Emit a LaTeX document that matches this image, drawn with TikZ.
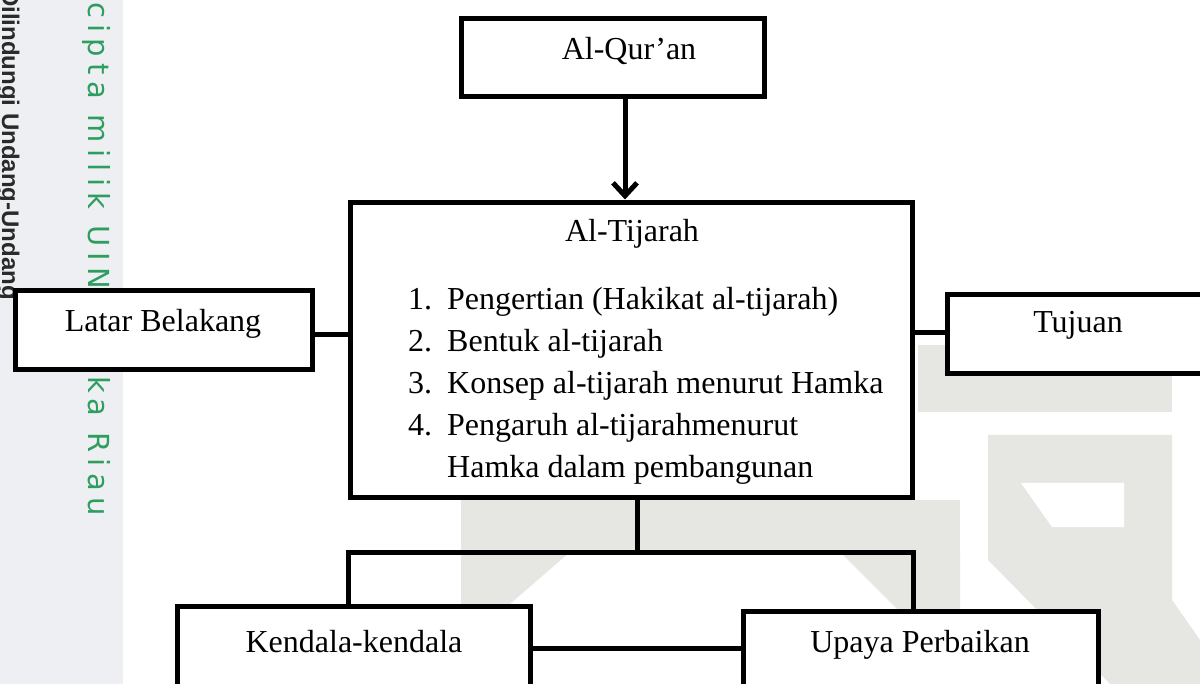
\documentclass[tikz,border=0pt]{standalone}
\usepackage{fontspec}
\setmainfont{Liberation Serif}
\newfontfamily\wmsans{Liberation Sans}
\newfontfamily\wmgreen{DejaVu Sans}[LetterSpace=22]
\usetikzlibrary{arrows.meta}
\definecolor{stripgray}{HTML}{EEEFF3}
\definecolor{wmgreen}{HTML}{2E9E60}
\definecolor{wmtext}{HTML}{2A2A2A}
\definecolor{logogray}{HTML}{E6E7E3}
\tikzset{
  box/.style={draw=black, line width=5pt, fill=white, inner sep=0pt, outer sep=0pt, line join=miter},
  conn/.style={draw=black, line width=5pt, line join=miter},
  lbl/.style={font=\fontsize{32}{42}\selectfont, anchor=base, inner sep=0pt},
  lbll/.style={lbl, anchor=base west},
  logo/.style={fill=logogray, draw=none},
}
\begin{document}
\begin{tikzpicture}[x=1pt,y=-1pt]
\useasboundingbox (0,0) rectangle (1200,684);
\clip (0,0) rectangle (1200,684);
% watermark strip
\fill[stripgray] (0,0) rectangle (123,684);
\node[wmtext, font=\wmsans\bfseries\fontsize{24}{24}\selectfont, rotate=-90, anchor=base west, inner sep=0pt] (wm1) at (2,-11) {Dilindungi Undang-Undang};
\node[wmgreen, font=\wmgreen\fontsize{29}{29}\selectfont, rotate=-90, anchor=base west, inner sep=0pt] (wm2) at (88,2) {cipta milik UIN Suska Riau};
% faint logo watermark
\fill[logo] (918,345) rectangle (1172,412);
\fill[logo] (988,435) -- (1172,435) -- (1172,600) -- (1200,640) -- (1200,684) -- (1110,684) -- (988,560) -- cycle;
\fill[white] (1021,483) -- (1124,483) -- (1124,527) -- (1052,527) -- cycle;
\fill[logo] (461,500) rectangle (960,552);
\fill[logo] (461,552) -- (570,552) -- (510,604) -- (461,604) -- cycle;
\fill[logo] (840,552) -- (960,552) -- (960,612) -- (900,612) -- cycle;
% boxes
\node[box, minimum width=303pt, minimum height=78pt] (q) at (613,57.5) {};
\node[box, minimum width=562pt, minimum height=295pt] (t) at (631.5,350) {};
\node[box, minimum width=297pt, minimum height=79pt] (l) at (164,330) {};
\node[box, minimum width=265pt, minimum height=79pt] (r) at (1080,334) {};
\node[box, minimum width=353pt, minimum height=91pt] (k) at (354,652) {};
\node[box, minimum width=355pt, minimum height=86pt] (u) at (921,654.5) {};
% texts
\node[lbl] (tq) at (629,60) {Al-Qur’an};
\node[lbl] (tt) at (632,242) {Al-Tijarah};
\node[lbll] (n1) at (408,310) {1.};
\node[lbll] (i1) at (447,310) {Pengertian (Hakikat al-tijarah)};
\node[lbll] (n2) at (408,352) {2.};
\node[lbll] (i2) at (447,352) {Bentuk al-tijarah};
\node[lbll] (n3) at (408,394) {3.};
\node[lbll] (i3) at (447,394) {Konsep al-tijarah menurut Hamka};
\node[lbll] (n4) at (408,436) {4.};
\node[lbll] (i4) at (447,436) {Pengaruh al-tijarahmenurut};
\node[lbll] (i5) at (447,478) {Hamka dalam pembangunan};
\node[lbl] (tl) at (163,332) {Latar Belakang};
\node[lbl] (tr) at (1078,333) {Tujuan};
\node[lbl] (tk) at (354,652) {Kendala-kendala};
\node[lbl] (tu) at (920,652) {Upaya Perbaikan};
% connector coordinates
\coordinate (ax) at (625,0);
\coordinate (cl) at (0,335);
\coordinate (cr) at (0,333);
\coordinate (bj) at (637,552);
\coordinate (bl) at (348,552);
\coordinate (br) at (913,552);
\coordinate (ku) at (0,648);
% connectors
\draw[conn, shorten >=3pt, -{Straight Barb[length=13pt,width=24pt]}] (q.south -| ax) -- (t.north -| ax);
\draw[conn] (l.east |- cl) -- (t.west |- cl);
\draw[conn] (t.east |- cr) -- (r.west |- cr);
\draw[conn] (t.south -| bj) -- (bj);
\draw[conn] (k.north -| bl) -- (bl) -- (br) -- (u.north -| br);
\draw[conn] (k.east |- ku) -- (u.west |- ku);
\end{tikzpicture}
\end{document}
